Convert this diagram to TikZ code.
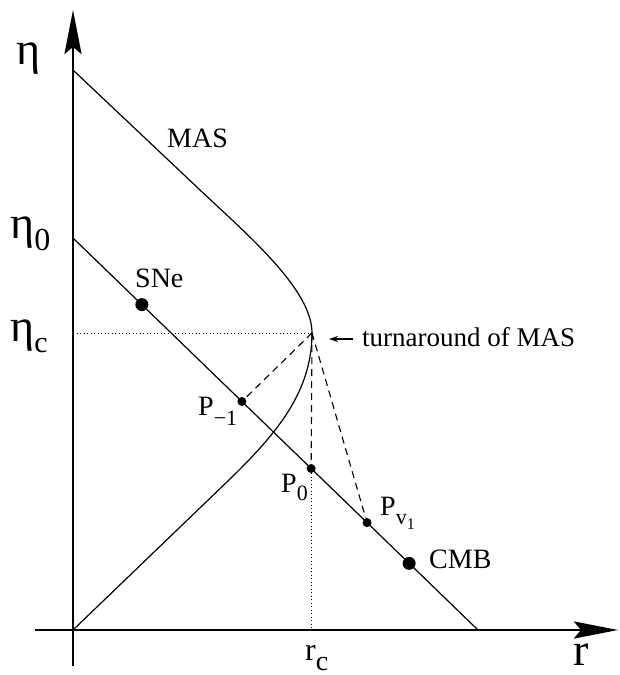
\documentclass[tikz,border=0pt]{standalone}
\usepackage{fontspec}
\setmainfont{Liberation Serif}
\usetikzlibrary{arrows.meta,calc}
\newcommand\fs[1]{\fontsize{#1}{#1}\selectfont}
\begin{document}
\begin{tikzpicture}[x=1pt,y=-1pt,
  mline/.style={line width=1.2pt},
  axisline/.style={line width=2.8pt,-{Stealth[length=44pt,width=17pt,inset=7pt]}},
  dashline/.style={line width=1.1pt,dash pattern=on 7pt off 5pt},
  dotline/.style={line width=0.9pt,dash pattern=on 1pt off 2.5pt},
  bigdot/.style={circle,fill=black,inner sep=0pt,minimum size=13pt},
  smalldot/.style={circle,fill=black,inner sep=0pt,minimum size=9pt},
  lbl/.style={inner sep=0pt,anchor=base west,font=\fs{28}}]
\useasboundingbox (0,0) rectangle (619,675);

\coordinate (O) at (73,630);
\coordinate (ytip) at (73,10);
\coordinate (ybot) at (73,666);
\coordinate (xleft) at (35,630);
\coordinate (xtip) at (618,630);
\coordinate (eta0) at (73,238);
\coordinate (lcEnd) at (478,630);
\coordinate (masTop) at (73,70);
\coordinate (T) at (312,333);
\coordinate (etacAx) at (73,333);
\coordinate (tarrS) at (353,339);
\coordinate (tarrE) at (329,339);

% axes
\draw[axisline] (xleft) -- (xtip);
\draw[axisline] (ybot) -- (ytip);

% MAS curve
\draw[mline] (masTop) -- (200,190) .. controls (250,237) and (312,290) .. (T)
  .. controls (312,393) and (275,435) .. (230,479) -- (O);

% past light cone
\draw[mline] (eta0) -- (lcEnd);

% points on the light cone
\node[bigdot] (sne) at ($(eta0)!0.170!(lcEnd)$) {};
\node[smalldot] (pm1) at ($(eta0)!0.417!(lcEnd)$) {};
\node[smalldot] (p0) at ($(eta0)!0.588!(lcEnd)$) {};
\node[smalldot] (pv1) at ($(eta0)!0.726!(lcEnd)$) {};
\node[bigdot] (cmb) at ($(eta0)!0.830!(lcEnd)$) {};

% dashed and dotted guides
\draw[dashline] (T) -- (pm1);
\draw[dashline] (T) -- (p0);
\draw[dashline] (T) -- (pv1);
\draw[dotline] (etacAx) -- (T);
\draw[dotline] (p0) -- (p0 |- O);

% turnaround arrow
\draw[mline,-{Stealth[length=9pt,width=6pt]}] (tarrS) -- (tarrE);

% labels
\node[lbl,font=\fs{46}] (etaL) at (16,64) {η};
\node[lbl,font=\fs{46}] (eta0L) at (10,238) {η\raisebox{-12pt}{\fs{32}0}};
\node[lbl,font=\fs{46}] (etacL) at (10,341) {η\raisebox{-11pt}{\fs{30}c}};
\node[lbl,font=\fs{46}] (rL) at (573,665) {r};
\node[lbl,font=\fs{32}] (rcL) at (305,660) {r\raisebox{-10pt}{\fs{28}c}};
\node[lbl] (masL) at (167,147) {MAS};
\node[lbl] (sneL) at (135,287) {SNe};
\node[lbl] (cmbL) at (429,568) {CMB};
\node[lbl,font=\fs{27}] (turnL) at (362,346) {turnaround of MAS};
\node[lbl] (pm1L) at (198,415) {P\raisebox{-10pt}{\fs{22}−1}};
\node[lbl] (p0L) at (281,492) {P\raisebox{-8pt}{\fs{22}0}};
\node[lbl] (pv1L) at (380,515) {P\raisebox{-9pt}{\fs{22}v\raisebox{-5pt}{\fs{16}1}}};
\end{tikzpicture}
\end{document}
